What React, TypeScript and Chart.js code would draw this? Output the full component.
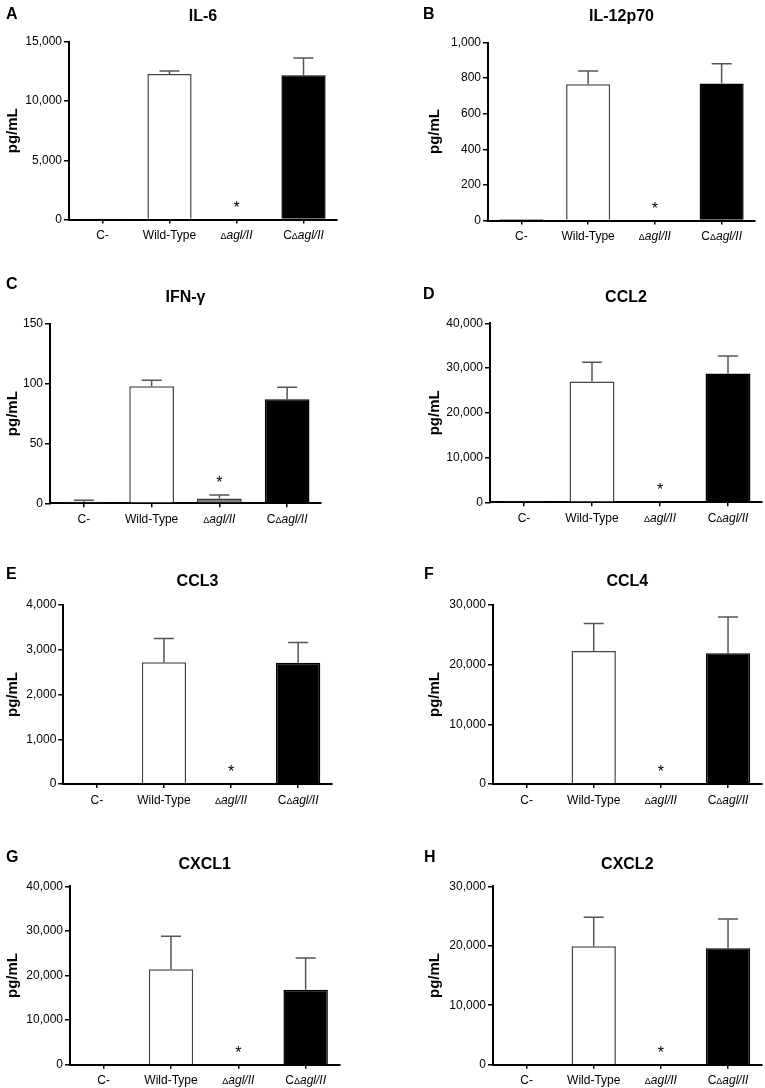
import React, { useEffect, useRef } from 'react';
import { Chart, registerables } from 'chart.js';

Chart.register(...registerables);

const FONT = '"Liberation Sans", Arial, Helvetica, sans-serif';

// ---- data ----
const categories = ['C-', 'Wild-Type', 'Δagl/II', 'CΔagl/II'];
const panelLetters = ['A', 'B', 'C', 'D', 'E', 'F', 'G', 'H'];
const panelTitles = ['IL-6', 'IL-12p70', 'IFN-γ', 'CCL2', 'CCL3', 'CCL4', 'CXCL1', 'CXCL2'];
const yAxisTitle = 'pg/mL';
const yAxisMax = [15000, 1000, 150, 40000, 4000, 30000, 40000, 30000];
const yAxisStep = [5000, 200, 50, 10000, 1000, 10000, 10000, 10000];

const il6Mean = [80, 12300, 0, 12200];
const il6Err = [0, 240, 0, 1450];
const il12Mean = [8, 765, 0, 770];
const il12Err = [0, 75, 0, 110];
const ifngMean = [1.2, 98, 4, 87];
const ifngErr = [1.3, 5, 3, 10];
const ccl2Mean = [350, 27000, 0, 28800];
const ccl2Err = [0, 4300, 0, 3900];
const ccl3Mean = [0, 2720, 0, 2710];
const ccl3Err = [0, 530, 0, 450];
const ccl4Mean = [0, 22300, 0, 21900];
const ccl4Err = [0, 4600, 0, 6100];
const cxcl1Mean = [0, 21400, 0, 16800];
const cxcl1Err = [0, 7400, 0, 7100];
const cxcl2Mean = [0, 19900, 0, 19600];
const cxcl2Err = [0, 4900, 0, 4900];

const panelMeans = [il6Mean, il12Mean, ifngMean, ccl2Mean, ccl3Mean, ccl4Mean, cxcl1Mean, cxcl2Mean];
const panelErrs = [il6Err, il12Err, ifngErr, ccl2Err, ccl3Err, ccl4Err, cxcl1Err, cxcl2Err];
const starCategory = [2, 2, 2, 2, 2, 2, 2, 2];

// ---- styles ----
const barFills = ['#808080', '#ffffff', '#808080', '#000000'];
const barBorders = ['#3a3a3a', '#444444', '#3a3a3a', '#000000'];
const errColor = '#555555';

// ---- layout (pixels, relative to each panel canvas) ----
const layouts = [
  { ox: 0, oy: 0, w: 383, h: 270, axisX: 69, axisEnd: 337, top: 42, bottom: 219.5, yLabelX: 13, letterX: 6, letterY: 15, titleY: 17 },
  { ox: 383, oy: 0, w: 382, h: 270, axisX: 105, axisEnd: 372, top: 42.5, bottom: 220.5, yLabelX: 52, letterX: 40, letterY: 15, titleY: 17 },
  { ox: 0, oy: 270, w: 383, h: 270, axisX: 50, axisEnd: 321, top: 54, bottom: 233.3, yLabelX: 13, letterX: 6, letterY: 15, titleY: 28 },
  { ox: 383, oy: 270, w: 382, h: 270, axisX: 107, axisEnd: 379, top: 53.3, bottom: 232.3, yLabelX: 52, letterX: 40, letterY: 25, titleY: 28 },
  { ox: 0, oy: 540, w: 383, h: 273, axisX: 63.3, axisEnd: 331.7, top: 65, bottom: 244, yLabelX: 13, letterX: 6, letterY: 35, titleY: 41.7 },
  { ox: 383, oy: 540, w: 382, h: 273, axisX: 110, axisEnd: 378.6, top: 65, bottom: 244, yLabelX: 52, letterX: 41, letterY: 35, titleY: 41.7 },
  { ox: 0, oy: 813, w: 383, h: 275, axisX: 70, axisEnd: 339.3, top: 73.3, bottom: 251.7, yLabelX: 13, letterX: 6, letterY: 45, titleY: 51.7 },
  { ox: 383, oy: 813, w: 382, h: 275, axisX: 110, axisEnd: 378.6, top: 73.3, bottom: 251.7, yLabelX: 52, letterX: 41, letterY: 45, titleY: 51.7 },
];

function drawCategoryLabel(ctx: CanvasRenderingContext2D, text: string, cx: number, baseline: number) {
  const parts: { t: string; f: string }[] = [];
  const k = text.indexOf('Δ');
  if (k < 0) {
    parts.push({ t: text, f: `12px ${FONT}` });
  } else {
    if (k > 0) parts.push({ t: text.slice(0, k), f: `12px ${FONT}` });
    parts.push({ t: 'Δ', f: `9px ${FONT}` });
    parts.push({ t: text.slice(k + 1), f: `italic 12px ${FONT}` });
  }
  let total = 0;
  const widths = parts.map((p) => {
    ctx.font = p.f;
    const w = ctx.measureText(p.t).width;
    total += w;
    return w;
  });
  let x = cx - total / 2;
  ctx.textAlign = 'left';
  ctx.textBaseline = 'alphabetic';
  ctx.fillStyle = '#000';
  parts.forEach((p, i) => {
    ctx.font = p.f;
    ctx.fillText(p.t, x, baseline);
    x += widths[i];
  });
}

function Panel({ idx }: { idx: number }) {
  const ref = useRef<HTMLCanvasElement>(null);
  const L = layouts[idx];

  useEffect(() => {
    if (!ref.current) return;
    const means = panelMeans[idx];
    const errs = panelErrs[idx];
    const yTitleFont = 15;
    const padLeft = L.yLabelX - (yTitleFont * 1.2) / 2;

    const decor = {
      id: 'decor' + idx,
      afterDatasetsDraw(chart: any) {
        const ctx = chart.ctx as CanvasRenderingContext2D;
        const meta = chart.getDatasetMeta(0);
        const ys = chart.scales.y;
        ctx.save();
        ctx.strokeStyle = errColor;
        ctx.lineWidth = 1.5;
        meta.data.forEach((el: any, i: number) => {
          const e = errs[i];
          if (!e) return;
          const yTop = ys.getPixelForValue(means[i] + e);
          const yBar = ys.getPixelForValue(means[i]);
          ctx.beginPath();
          ctx.moveTo(el.x, yBar);
          ctx.lineTo(el.x, yTop);
          ctx.moveTo(el.x - 10, yTop);
          ctx.lineTo(el.x + 10, yTop);
          ctx.stroke();
        });
        ctx.restore();
      },
      afterDraw(chart: any) {
        const ctx = chart.ctx as CanvasRenderingContext2D;
        const area = chart.chartArea;
        const xs = chart.scales.x;
        const ys = chart.scales.y;
        ctx.save();
        // panel letter
        ctx.fillStyle = '#000';
        ctx.font = `bold 16px ${FONT}`;
        ctx.textAlign = 'left';
        ctx.textBaseline = 'middle';
        ctx.fillText(panelLetters[idx], L.letterX, L.letterY);
        // title
        ctx.font = `bold 16px ${FONT}`;
        ctx.textAlign = 'center';
        ctx.fillText(panelTitles[idx], (area.left + area.right) / 2, L.titleY);
        // category labels
        categories.forEach((c, i) => {
          drawCategoryLabel(ctx, c, xs.getPixelForValue(i), area.bottom + 19.5);
        });
        // significance star
        const si = starCategory[idx];
        const sx = xs.getPixelForValue(si);
        const sy = ys.getPixelForValue(means[si] + errs[si]) - 16;
        ctx.font = `16px ${FONT}`;
        ctx.textAlign = 'center';
        ctx.textBaseline = 'alphabetic';
        ctx.fillText('*', sx, sy + 9);
        ctx.restore();
      },
    };

    const chart = new Chart(ref.current, {
      type: 'bar',
      data: {
        labels: categories,
        datasets: [
          {
            data: means,
            backgroundColor: barFills,
            borderColor: barBorders,
            borderWidth: 1.5,
            barPercentage: 0.66,
            categoryPercentage: 1,
          },
        ],
      },
      options: {
        animation: false,
        responsive: false,
        devicePixelRatio: window.devicePixelRatio || 1,
        layout: {
          padding: { left: padLeft, top: L.top, right: L.w - L.axisEnd, bottom: 0 },
        },
        plugins: {
          legend: { display: false },
          tooltip: { enabled: false },
          title: { display: false },
        },
        scales: {
          x: {
            type: 'category',
            offset: true,
            ticks: { display: false },
            grid: {
              offset: false,
              drawOnChartArea: false,
              drawTicks: true,
              tickLength: 4,
              tickWidth: 1.5,
              tickColor: '#000',
              color: '#000',
              lineWidth: 1.5,
            },
            border: { display: true, color: '#000', width: 2 },
            afterFit: (s: any) => {
              s.height = L.h - L.bottom;
            },
          },
          y: {
            type: 'linear',
            min: 0,
            max: yAxisMax[idx],
            ticks: {
              stepSize: yAxisStep[idx],
              color: '#000',
              padding: 2,
              font: { family: FONT, size: 12 },
              callback: (v: any) => Number(v).toLocaleString('en-US'),
            },
            grid: {
              drawOnChartArea: false,
              drawTicks: true,
              tickLength: 5,
              tickWidth: 1.5,
              tickColor: '#000',
              color: '#000',
              lineWidth: 1.5,
            },
            border: { display: true, color: '#000', width: 2 },
            title: {
              display: true,
              text: yAxisTitle,
              color: '#000',
              padding: 0,
              font: { family: FONT, size: yTitleFont, weight: 'bold' },
            },
            afterFit: (s: any) => {
              s.width = L.axisX - padLeft;
            },
          },
        },
      },
      plugins: [decor],
    } as any);
    return () => chart.destroy();
  }, [idx]);

  return (
    <canvas
      ref={ref}
      width={L.w}
      height={L.h}
      style={{ position: 'absolute', left: L.ox, top: L.oy, width: L.w, height: L.h }}
    />
  );
}

export default function App() {
  return (
    <div style={{ position: 'absolute', left: 0, top: 0, width: 765, height: 1088, background: '#fff', overflow: 'hidden' }}>
      {layouts.map((_, i) => (
        <Panel key={i} idx={i} />
      ))}
    </div>
  );
}
